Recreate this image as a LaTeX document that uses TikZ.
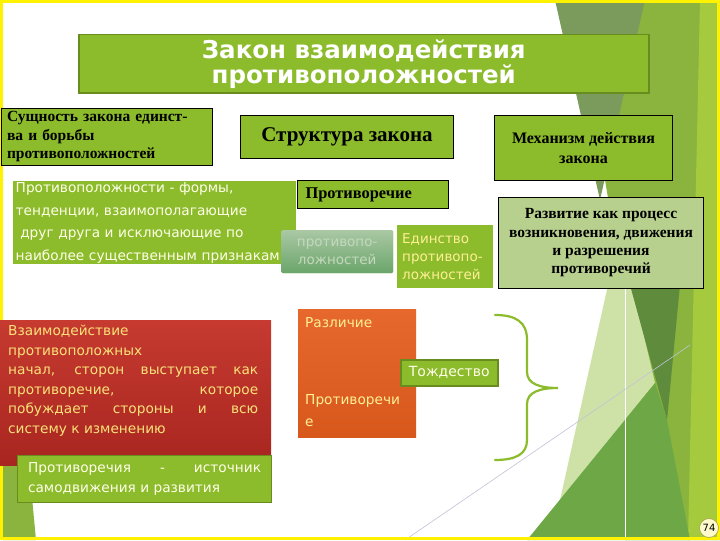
\documentclass[tikz,border=0pt]{standalone}
\usepackage{fontspec}
\setmainfont{Liberation Serif}
\setsansfont{DejaVu Sans}
\usepackage{tikz}
\usetikzlibrary{positioning,calc,shadings}
\definecolor{lawn}{RGB}{140,187,44}
\definecolor{lawndark}{RGB}{104,140,30}
\definecolor{palelawn}{RGB}{184,208,142}
\definecolor{olivebg}{RGB}{138,180,62}
\definecolor{greybg}{RGB}{122,155,92}
\definecolor{brightbg}{RGB}{165,202,62}
\definecolor{darkbg}{RGB}{94,140,60}
\definecolor{palebg}{RGB}{206,226,168}
\definecolor{midbg}{RGB}{110,168,70}
\definecolor{redtop}{RGB}{198,58,48}
\definecolor{redbot}{RGB}{168,38,32}
\definecolor{orangetop}{RGB}{230,104,44}
\definecolor{orangebot}{RGB}{216,88,28}
\definecolor{sagetop}{RGB}{170,200,164}
\definecolor{sagebot}{RGB}{106,165,106}
\definecolor{cream}{RGB}{255,255,232}
\definecolor{ochre}{RGB}{250,226,120}
\definecolor{lemon}{RGB}{255,240,150}

\begin{document}
\begin{tikzpicture}[x=1pt,y=-1pt,
        slab/.style={anchor=north west, inner sep=0pt, fill=lawn},
        boldbox/.style={slab, draw=black, line width=1pt, font=\bfseries, text=black},
        sansbox/.style={slab, font=\sffamily},
        brace/.style={draw=lawn, line width=2.2pt, line cap=round}]
        % slide background
        \fill[white] (0,0) rectangle (720,540);
        \fill[olivebg] (575,0) -- (720,0) -- (720,540) -- (625,540) -- (625,300) -- cycle;
        \fill[greybg] (555,0) -- (645,0) -- (600,200) -- cycle;
        \fill[brightbg] (700,0) -- (720,0) -- (720,540) -- (688,540) -- cycle;
        \fill[palebg] (608,285) -- (632,285) -- (655,383) -- (560,500) -- cycle;
        \fill[darkbg] (630,285) -- (680,285) -- (667,420) -- cycle;
        \fill[midbg] (527,540) -- (655,383) -- (667,420) -- (690,540) -- cycle;
        \draw[white, line width=1pt] (625,285) -- (625,540);
        \draw[blue!20!gray!40, line width=0.6pt] (405,540) -- (690,345);
        \fill[olivebg] (3,455) -- (28,455) -- (36,540) -- (3,540) -- cycle;
        \draw[yellow, line width=3pt] (1.5,1.5) rectangle (718.5,538.5);

        % boxes
        \node[slab, draw=lawndark, line width=1.5pt, minimum width=570, minimum height=58,
              text=white, font=\sffamily\bfseries\fontsize{24.5}{25}\selectfont, align=center]
              (title) at (78,34) {Закон взаимодействия\\противоположностей};
        \node[boldbox, minimum width=211, minimum height=57, text width=200, align=left,
              font=\bfseries\fontsize{15.5}{18.5}\selectfont]
              (essence) at (1,108) {Сущность закона единст-\\ва и борьбы\\противоположностей};
        \node[boldbox, minimum width=213, minimum height=43,
              font=\bfseries\fontsize{21}{22}\selectfont]
              (structure) at (240,115) {Структура закона};
        \node[boldbox, minimum width=178, minimum height=65, align=center,
              font=\bfseries\fontsize{16}{20}\selectfont]
              (mechanism) at (494,115) {Механизм действия\\закона};
        \node[sansbox, minimum width=283, minimum height=83, text width=278, align=left,
              text=cream, font=\sffamily\fontsize{13.7}{22.5}\selectfont]
              (opposites) at (13,181) {Противоположности - формы,\\тенденции, взаимополагающие\\
              \ друг друга и исключающие по\\\mbox{наиболее существенным признакам}};
        \node[boldbox, minimum width=151, minimum height=28, text width=135, align=left,
              font=\bfseries\fontsize{16.4}{18}\selectfont]
              (contradiction) at (297,180) {Противоречие};
        \node[slab, top color=sagetop, bottom color=sagebot, rounded corners=1.5pt,
              minimum width=112, minimum height=43, align=center, text=sagetop!70!white,
              font=\sffamily\fontsize{13.5}{18}\selectfont]
              (sage) at (281,230) {противопо-\\ложностей};
        \node[sansbox, minimum width=96, minimum height=63, text width=86, align=left,
              text=lemon, font=\sffamily\fontsize{13.5}{18}\selectfont]
              (unity) at (397,225) {Единство\\противопо-\\ложностей};
        \node[boldbox, fill=palelawn, minimum width=205, minimum height=91, align=center,
              font=\bfseries\fontsize{15.5}{18.3}\selectfont]
              (development) at (498,197) {Развитие как процесс\\возникновения, движения\\и разрешения\\противоречий};
        \node[slab, top color=redtop, bottom color=redbot, inner xsep=8pt, inner ysep=5pt,
              text=ochre, font=\sffamily\fontsize{13.7}{19.5}\selectfont]
              (interaction) at (0,320) {\parbox[t][135pt][t]{255pt}{Взаимодействие\\противоположных\\
              \makebox[250pt][s]{начал, сторон выступает как}\\
              \makebox[250pt][s]{противоречие, которое}\\
              \makebox[250pt][s]{побуждает стороны и всю}\\систему к изменению}};
        \node[slab, draw=lawndark, line width=1pt, minimum width=254, minimum height=47,
              text=cream, font=\sffamily\fontsize{13.7}{20}\selectfont]
              (source) at (17,455) {\parbox{233pt}{\makebox[233pt]{Противоречия\hfill-\hfill источник}\\самодвижения и развития}};
        \node[slab, top color=orangetop, bottom color=orangebot, inner xsep=7pt, inner ysep=5pt,
              text=lemon, font=\sffamily\fontsize{13.7}{22}\selectfont]
              (difference) at (298,309) {\parbox[t][118pt][t]{104pt}{\vspace{3pt}Различие\par\vfill Противоречи\\е\par\vspace{6pt}}};
        \node[slab, draw=lawndark, line width=1.5pt, minimum width=97, minimum height=26,
              text=cream, font=\sffamily\fontsize{14}{16}\selectfont]
              (identity) at (400,359) {Тождество};

        % brace
        \coordinate (bracetop) at (495,315);
        \coordinate (bracetip) at (558,388);
        \coordinate (bracebot) at (495,460);
        \draw[brace] (bracetop) .. controls (516,315) and (527,322) .. (527,340) -- (527,372)
              .. controls (527,384) and (540,388) .. (bracetip)
              .. controls (540,388) and (527,392) .. (527,404) -- (527,440)
              .. controls (527,454) and (516,460) .. (bracebot);

        % page number
        \node[circle, fill=yellow!90!orange!20, draw=yellow!60!black, line width=0.6pt,
              minimum size=19, inner sep=0pt, font=\sffamily\fontsize{10}{10}\selectfont]
              (page) at (709,528) {74};
\end{tikzpicture}
\end{document}
